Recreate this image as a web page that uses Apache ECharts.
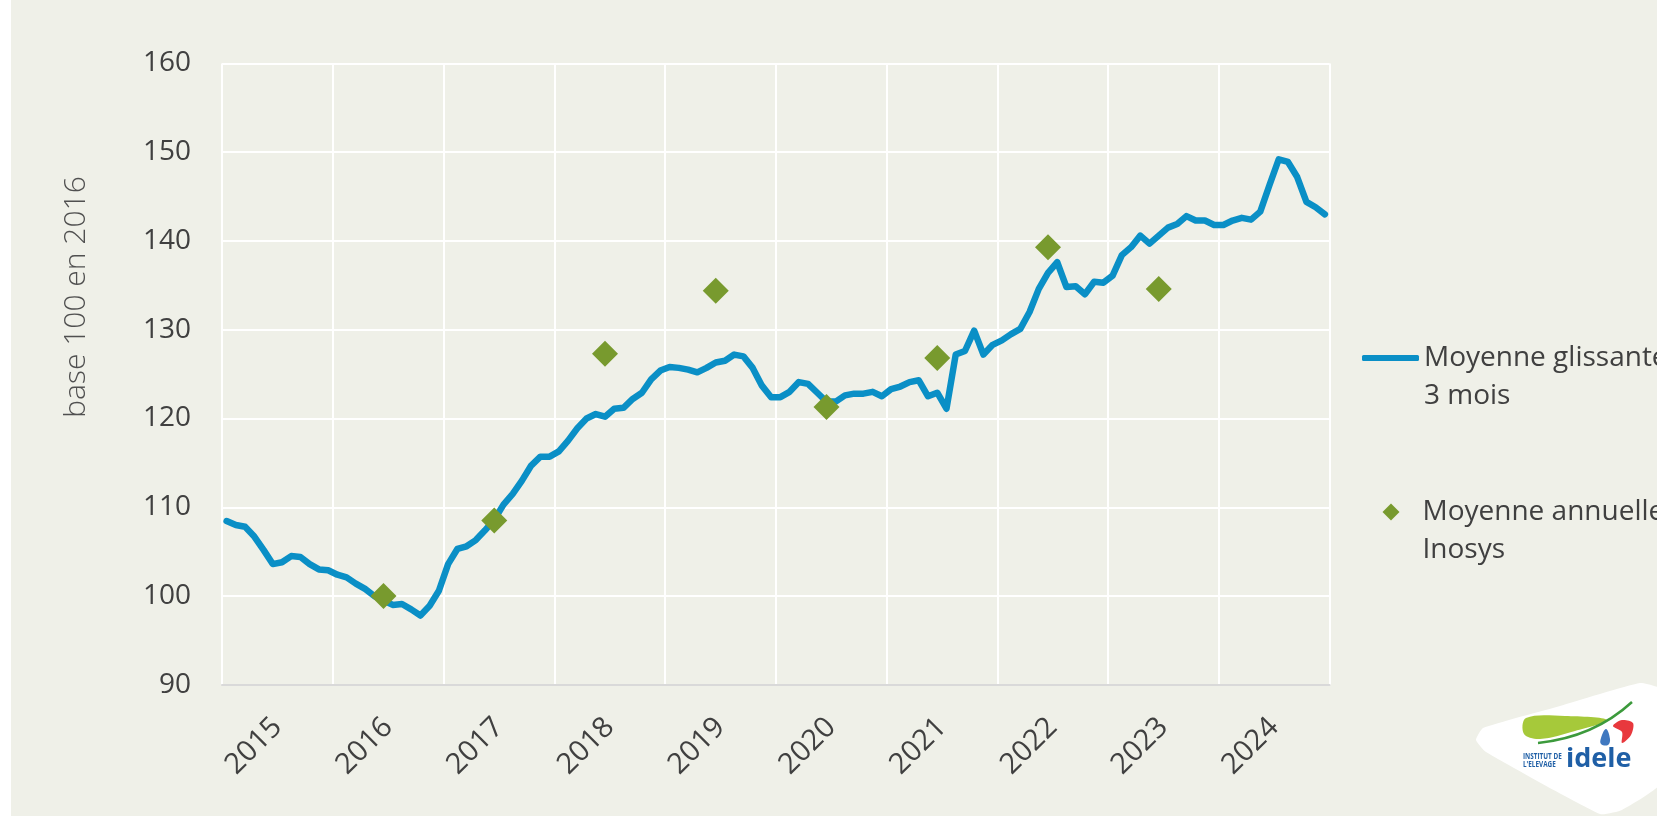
<!DOCTYPE html>
<html>
<head>
<meta charset="utf-8">
<script src="https://cdn.jsdelivr.net/npm/echarts@6/dist/echarts.min.js"></script>
<style>
html,body{margin:0;padding:0;background:#ffffff;}
#chart{position:absolute;left:0;top:0;width:1657px;height:816px;}
</style>
</head>
<body>
<div id="chart"></div>
<script>
// ---- data ----
const years = ['2015','2016','2017','2018','2019','2020','2021','2022','2023','2024'];
const yTicks = [90, 100, 110, 120, 130, 140, 150, 160];
const lineName = 'Moyenne glissante\n3 mois';
const annualName = 'Moyenne annuelle\nInosys';
const yAxisTitle = 'base 100 en 2016';
const rolling2015 = [108.45, 108.0, 107.8, 106.7, 105.2, 103.6, 103.8, 104.5, 104.4, 103.6, 103.0, 102.9];
const rolling2016 = [102.4, 102.1, 101.4, 100.8, 100.0, 99.5, 99.0, 99.1, 98.5, 97.8, 98.9, 100.6];
const rolling2017 = [103.6, 105.3, 105.6, 106.3, 107.4, 108.6, 110.3, 111.5, 113.0, 114.7, 115.7, 115.7];
const rolling2018 = [116.3, 117.5, 118.9, 120.0, 120.5, 120.2, 121.1, 121.2, 122.2, 122.9, 124.4, 125.4];
const rolling2019 = [125.8, 125.7, 125.5, 125.2, 125.7, 126.3, 126.5, 127.2, 127.0, 125.7, 123.7, 122.4];
const rolling2020 = [122.4, 123.0, 124.1, 123.9, 122.9, 121.9, 121.9, 122.6, 122.8, 122.8, 123.0, 122.5];
const rolling2021 = [123.3, 123.6, 124.1, 124.3, 122.5, 122.9, 121.1, 127.2, 127.6, 129.9, 127.2, 128.3];
const rolling2022 = [128.8, 129.5, 130.1, 132.0, 134.6, 136.4, 137.6, 134.8, 134.9, 134.0, 135.4, 135.3];
const rolling2023 = [136.1, 138.4, 139.3, 140.6, 139.7, 140.6, 141.5, 141.9, 142.8, 142.3, 142.3, 141.8];
const rolling2024 = [141.8, 142.3, 142.6, 142.4, 143.3, 146.3, 149.2, 148.9, 147.2, 144.4, 143.8, 143.0];
const annualMonths = ['2016-06','2017-06','2018-06','2019-06','2020-06','2021-06','2022-06','2023-06'];
const annualValues = [100.0, 108.5, 127.3, 134.4, 121.3, 126.8, 139.3, 134.6];

// ---- build ----
const months = [];
years.forEach(y => { for (let m = 1; m <= 12; m++) months.push(y + '-' + (m < 10 ? '0' + m : '' + m)); });
const rolling = [].concat(rolling2015, rolling2016, rolling2017, rolling2018, rolling2019,
  rolling2020, rolling2021, rolling2022, rolling2023, rolling2024);
const annual = annualMonths.map((m, i) => [m, annualValues[i]]);

const FONT = '"Open Sans", "Noto Sans", sans-serif';
const TXT = '#404040';
const BLUE = '#0a8fc6';
const GREEN = '#789a2e';
const LOGO_BLUE = '#1f5fa6';

const chart = echarts.init(document.getElementById('chart'), null, {renderer: 'canvas'});
chart.setOption({
  backgroundColor: '#eff0e8',
  animation: false,
  textStyle: {fontFamily: FONT},
  grid: {left: 222, right: 327.5, top: 63.4, bottom: 131.2, containLabel: false},
  xAxis: [{
    type: 'category', data: years, boundaryGap: true, position: 'bottom',
    axisLine: {show: true, lineStyle: {color: '#d9d9d9', width: 2}},
    axisTick: {show: false},
    axisLabel: {rotate: 45, fontSize: 29, color: TXT, margin: 38, fontFamily: FONT, interval: 0},
    splitLine: {show: true, lineStyle: {color: '#ffffff', width: 2}}
  }, {
    type: 'category', data: months, boundaryGap: true, show: false
  }],
  yAxis: {
    type: 'value', min: yTicks[0], max: yTicks[yTicks.length - 1], interval: 10,
    axisLine: {show: false}, axisTick: {show: false},
    axisLabel: {fontSize: 28, color: TXT, margin: 31, fontFamily: FONT},
    splitLine: {show: true, lineStyle: {color: '#ffffff', width: 2}}
  },
  legend: [{
    data: [{name: lineName, icon: 'roundRect'}],
    formatter: '\n{name}',
    left: 1362, top: 301, padding: 0,
    itemWidth: 57, itemHeight: 6, itemGap: 0,
    textStyle: {fontSize: 28, color: TXT, fontFamily: FONT, lineHeight: 38}
  }, {
    data: [{name: annualName, icon: 'diamond'}],
    formatter: '\n{name}',
    left: 1382.5, top: 455, padding: 0,
    itemWidth: 17, itemHeight: 17, itemGap: 0,
    textStyle: {fontSize: 28, color: TXT, fontFamily: FONT, lineHeight: 38, padding: [0, 0, 0, 18]}
  }],
  series: [{
    name: lineName, type: 'line', xAxisIndex: 1, data: rolling,
    symbol: 'none', smooth: false, color: BLUE,
    lineStyle: {color: BLUE, width: 6.5, cap: 'round', join: 'round'},
    z: 3
  }, {
    name: annualName, type: 'scatter', xAxisIndex: 1, data: annual,
    symbol: 'diamond', symbolSize: 26, color: GREEN,
    itemStyle: {color: GREEN, opacity: 1}, z: 4
  }],
  graphic: [
    {type: 'rect', left: 0, top: 0, shape: {width: 11, height: 816}, style: {fill: '#ffffff'}, silent: true},
    {type: 'text', x: 76, y: 297, rotation: Math.PI / 2,
     style: {text: yAxisTitle, fill: '#505050', font: '300 30px "Open Sans", sans-serif', align: 'center', verticalAlign: 'middle'}},
    // logo
    {type: 'polygon', shape: {smooth: 0.15, points: [[1483,728],[1560,706],[1640,683],[1662,690],[1662,782],[1622,810],[1600,814],[1486,752],[1476,740]]},
     style: {fill: '#ffffff'}},
    {type: 'polygon', shape: {smooth: 0.35, points: [[1526,718],[1565,716],[1607,720],[1575,731],[1540,739],[1524,734]]},
     style: {fill: '#a6c93a'}},
    {type: 'bezierCurve', shape: {x1: 1538, y1: 743, cpx1: 1594, cpy1: 737, x2: 1632, y2: 702},
     style: {stroke: '#3c9a3c', lineWidth: 2.5, fill: null}},
    {type: 'polygon', shape: {smooth: 0.3, points: [[1613,726],[1622,720],[1633,723],[1631,735],[1622,743],[1622,732]]},
     style: {fill: '#e8383d'}},
    {type: 'polygon', shape: {smooth: 0.4, points: [[1606,729],[1610,739],[1608,745],[1601,744],[1601,738]]},
     style: {fill: '#3f78c0'}},
    {type: 'text', x: 1523, y: 757, scaleX: 0.75, style: {text: 'INSTITUT DE', fill: LOGO_BLUE, font: 'bold 8.5px "Open Sans", sans-serif', verticalAlign: 'middle'}},
    {type: 'text', x: 1523, y: 765, scaleX: 0.75, style: {text: "L'ELEVAGE", fill: LOGO_BLUE, font: 'bold 8.5px "Open Sans", sans-serif', verticalAlign: 'middle'}},
    {type: 'text', x: 1566, y: 773, style: {text: 'idele', fill: LOGO_BLUE, font: 'bold 27px "Open Sans", sans-serif', verticalAlign: 'bottom'}}
  ]
});
</script>
</body>
</html>
